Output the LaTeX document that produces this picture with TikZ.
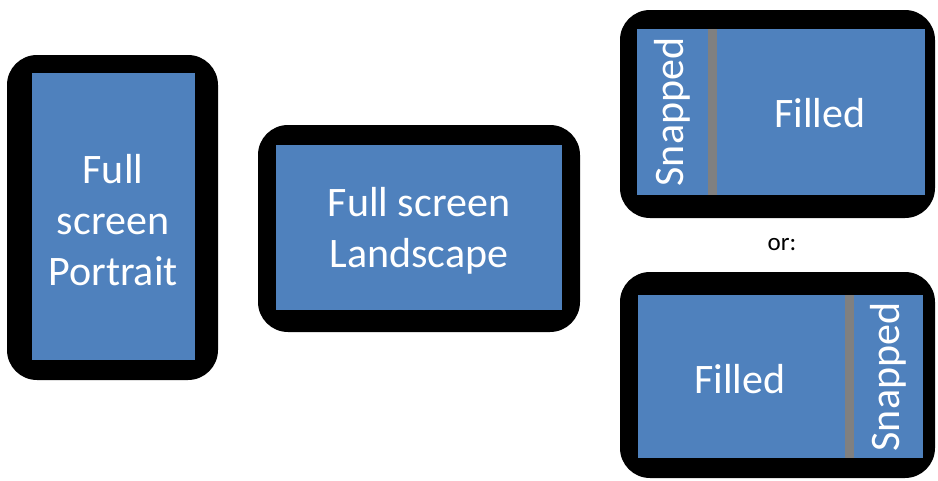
\documentclass[tikz,border=0pt]{standalone}
\usepackage{fontspec}
\setmainfont{Carlito}
\definecolor{scrblue}{HTML}{4F81BD}
\definecolor{bargray}{HTML}{808080}
\begin{document}
\begin{tikzpicture}[x=1pt,y=-1pt,
  bezel/.style={fill=black,rounded corners=30pt},
  screen/.style={fill=scrblue},
  divider/.style={fill=bargray},
  lbl/.style={text=white,font=\fontsize{42}{51}\selectfont,align=center,inner sep=0pt},
  small/.style={text=black,font=\fontsize{25}{30}\selectfont,inner sep=0pt}]
\useasboundingbox (0,0) rectangle (938,480);
% portrait
\fill[bezel] (7,55) rectangle (218,380);
\fill[screen] (32,73) rectangle (195,360);
\node[lbl] (portrait) at (113,220) {Full\\screen\\Portrait};
% landscape
\fill[bezel] (258,125) rectangle (580,332);
\fill[screen] (276,145) rectangle (562,310);
\node[lbl] (landscape) at (419,231) {Full screen\\Landscape};
% top right
\fill[bezel] (620,10) rectangle (935,218);
\fill[screen] (637,29) rectangle (925,195);
\fill[divider] (708,29) rectangle (717,195);
\node[lbl,rotate=90] (snapA) at (672,112) {Snapped};
\node[lbl] (fillA) at (820,113) {Filled};
% or
\node[small] (or) at (782,245) {or:};
% bottom right
\fill[bezel] (620,272) rectangle (935,478);
\fill[screen] (638,295) rectangle (923,458);
\fill[divider] (845,295) rectangle (854,458);
\node[lbl] (fillB) at (740,379) {Filled};
\node[lbl,rotate=90] (snapB) at (888,377) {Snapped};
\end{tikzpicture}
\end{document}
